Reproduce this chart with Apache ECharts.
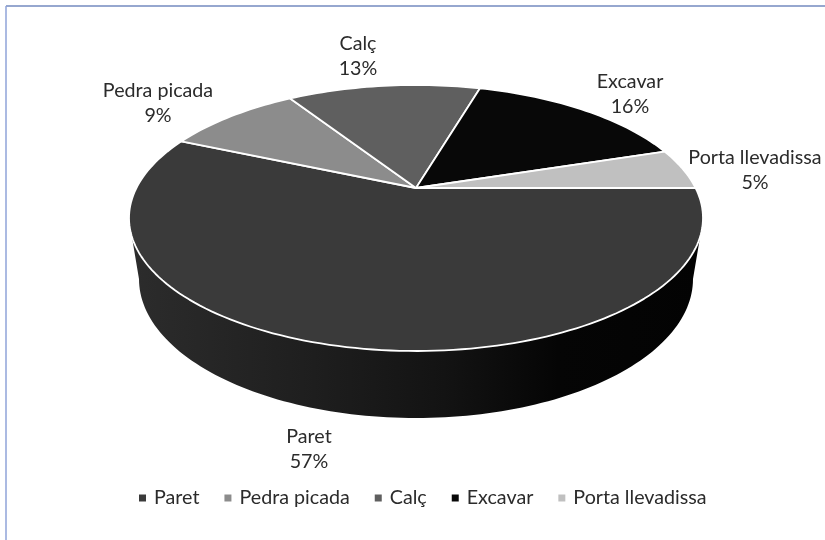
<!DOCTYPE html>
<html>
<head>
<meta charset="utf-8">
<style>html,body{margin:0;padding:0;background:#fff}#main{width:825px;height:540px}</style>
<script src="https://cdn.jsdelivr.net/npm/echarts@6/dist/echarts.min.js"></script>
</head>
<body>
<div id="main"></div>
<script>
// dades del gràfic, en l'ordre de la llegenda
var categories = ['Paret', 'Pedra picada', 'Calç', 'Excavar', 'Porta llevadissa'];
var values = [56.6, 9.4, 13.49, 15.51, 5];
var colors = ['#3a3a3a', '#8c8c8c', '#5f5f5f', '#080808', '#c0c0c0'];
var labelCenters = [[309, 449], [158, 103], [358, 56], [630, 94], [755, 170]];

// geometria de la perspectiva
var top3d = {cx: 416, cy: 218, rx: 287, ry: 133, apexY: 188};
var bottom3d = {cx: 416, cy: 279, rx: 277, ry: 139};
var font = 'Lato, "Noto Sans", sans-serif';
var fontSize = 19.7;

var total = values.reduce(function (a, b) { return a + b; }, 0);
var a = (top3d.apexY - top3d.cy) / top3d.ry;
var k = Math.sqrt(1 - a * a);

// projecta un punt del disc unitat sobre l'el·lipse (el centre va a l'àpex)
function project(x, y) {
    var d = 1 + a * y;
    return [top3d.cx + top3d.rx * x * k / d, top3d.cy + top3d.ry * (y + a) / d];
}

// els sectors comencen a les 3 i giren en sentit antihorari, des de l'últim
function startShare(i) {
    var s = 0;
    for (var j = categories.length - 1; j > i; j--) s += values[j];
    return s / total;
}

function slicePoints(i) {
    var from = startShare(i) * Math.PI * 2;
    var to = from + values[i] / total * Math.PI * 2;
    var pts = [project(0, 0)];
    var n = Math.max(4, Math.ceil((to - from) * 40));
    for (var t = 0; t <= n; t++) {
        var ang = from + (to - from) * t / n;
        pts.push(project(Math.cos(ang), -Math.sin(ang)));
    }
    return pts;
}

function wallPoints() {
    var pts = [], t, ang;
    var start = Math.asin((237 - top3d.cy) / top3d.ry);
    for (t = 0; t <= 120; t++) {
        ang = start + (Math.PI - 2 * start) * t / 120;
        pts.push([top3d.cx + top3d.rx * Math.cos(ang), top3d.cy + top3d.ry * Math.sin(ang)]);
    }
    for (t = 0; t <= 120; t++) {
        ang = Math.PI - Math.PI * t / 120;
        pts.push([bottom3d.cx + bottom3d.rx * Math.cos(ang), bottom3d.cy + bottom3d.ry * Math.sin(ang)]);
    }
    return pts;
}

var series = [{
    name: 'wall',
    type: 'custom',
    coordinateSystem: 'none',
    silent: true,
    data: [0],
    renderItem: function () {
        return {
            type: 'polygon',
            shape: {points: wallPoints()},
            style: {
                fill: new echarts.graphic.LinearGradient(0, 0, 1, 0, [
                    {offset: 0, color: '#2c2c2c'},
                    {offset: 0.3, color: '#1f1f1f'},
                    {offset: 0.55, color: '#131313'},
                    {offset: 0.75, color: '#050505'},
                    {offset: 1, color: '#030303'}
                ])
            }
        };
    }
}];

categories.forEach(function (name, i) {
    series.push({
        name: name,
        type: 'custom',
        coordinateSystem: 'none',
        silent: true,
        itemStyle: {color: colors[i]},
        data: [values[i]],
        renderItem: function () {
            return {
                type: 'group',
                children: [{
                    type: 'polygon',
                    shape: {points: slicePoints(i)},
                    style: {fill: colors[i], stroke: '#fff', lineWidth: 1.8, lineJoin: 'round'}
                }, {
                    type: 'text',
                    x: labelCenters[i][0],
                    y: labelCenters[i][1],
                    style: {
                        text: name + '\n' + Math.round(values[i] / total * 100) + '%',
                        fill: '#2b2b2b',
                        font: fontSize + 'px ' + font,
                        lineHeight: 25,
                        align: 'center',
                        verticalAlign: 'middle'
                    }
                }]
            };
        }
    });
});

var myChart = echarts.init(document.getElementById('main'));
myChart.setOption({
    animation: false,
    backgroundColor: '#fff',
    legend: {
        data: categories,
        left: 134,
        top: 483,
        icon: 'rect',
        itemWidth: 7,
        itemHeight: 7,
        itemGap: 25,
        textStyle: {color: '#2b2b2b', fontFamily: font, fontSize: fontSize, padding: [0, 0, 0, 3]}
    },
    graphic: [
        {type: 'line', shape: {x1: 6, y1: 6, x2: 825, y2: 6}, style: {stroke: '#2f50a0', lineWidth: 1.2}},
        {type: 'line', shape: {x1: 6, y1: 6, x2: 6, y2: 540}, style: {stroke: '#8fa3d8', lineWidth: 1.5}}
    ],
    series: series
});
</script>
</body>
</html>
